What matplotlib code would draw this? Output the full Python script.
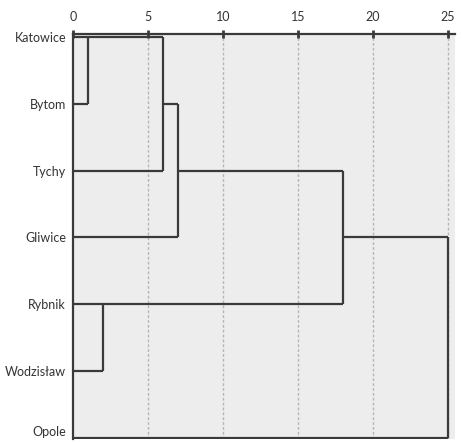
import matplotlib
matplotlib.use("Agg")
import matplotlib.pyplot as plt

# city names (leaves, top to bottom)
labels = ["Katowice", "Bytom", "Tychy", "Gliwice", "Rybnik", "Wodzisław", "Opole"]

# merges: leaves are 0-6, every merge makes a new node 7, 8, ...
merge_left = [0, 7, 8, 4, 9, 11]
merge_right = [1, 2, 3, 5, 10, 6]
merge_dist = [1, 6, 7, 2, 18, 25]

x_ticks = [0, 5, 10, 15, 20, 25]

plt.rcParams['font.family'] = ['Lato', 'DejaVu Sans']

fig = plt.figure(figsize=(4.62, 4.42), dpi=100)
ax = fig.add_axes([0.158, 0.007, 0.827, 0.916])
ax.set_facecolor("#ededed")

line_color = "#3a3a3a"
rows = list(range(len(labels)))
heights = [0] * len(labels)

for a, b, d in zip(merge_left, merge_right, merge_dist):
    ra, rb = rows[a], rows[b]
    ha, hb = heights[a], heights[b]
    ax.plot([ha, d], [ra, ra], color=line_color, lw=1.6, solid_capstyle="butt")
    ax.plot([hb, d], [rb, rb], color=line_color, lw=1.6, solid_capstyle="butt")
    ax.plot([d, d], [ra, rb], color=line_color, lw=1.6, solid_capstyle="butt")
    rows.append((ra + rb) // 2)
    heights.append(d)

for t in x_ticks[1:]:
    ax.axvline(t, color="#b5b5b5", lw=1, ls=(0, (2, 1.5)), zorder=0)

ax.set_xlim(0, 25.47)
ax.set_ylim(6.02, -0.05)
ax.xaxis.tick_top()
ax.set_xticks(x_ticks)
ax.set_yticks(range(len(labels)))
ax.set_yticklabels(labels)
ax.tick_params(axis="x", direction="inout", length=6, width=2, color=line_color,
               labelsize=9, labelcolor="#333333", pad=5)
ax.tick_params(axis="y", length=0, labelsize=9, labelcolor="#333333", pad=5)
# keep the bottom label inside the picture
ax.get_yticklabels()[-1].set_verticalalignment("bottom")

for side in ["right", "bottom"]:
    ax.spines[side].set_visible(False)
for side in ["top", "left"]:
    ax.spines[side].set_color(line_color)
    ax.spines[side].set_linewidth(1.6)

fig.savefig("out.png", dpi=100)
